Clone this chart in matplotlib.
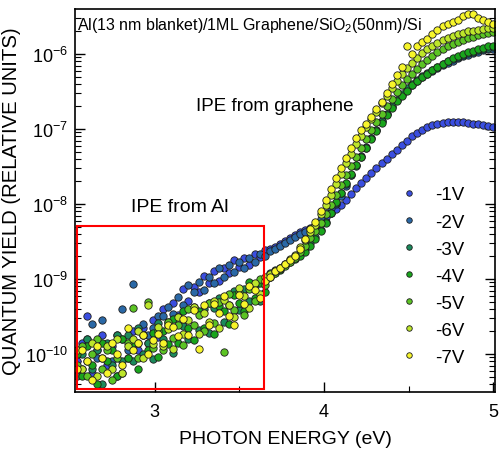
import numpy as np
import matplotlib
matplotlib.use("Agg")
import matplotlib.pyplot as plt
from matplotlib.patches import Rectangle
from matplotlib.ticker import FixedLocator, NullFormatter, MultipleLocator, LogFormatterSciNotation

plt.rcParams['font.family'] = ['Liberation Sans', 'DejaVu Sans']
plt.rcParams['axes.unicode_minus'] = False
plt.rcParams['mathtext.fontset'] = 'custom'
plt.rcParams['mathtext.rm'] = 'Liberation Sans'

# ---------------- data (log10 of quantum yield) ----------------
energy = [2.54, 2.57, 2.60, 2.63, 2.66, 2.69, 2.72, 2.75, 2.78, 2.81,
          2.84, 2.87, 2.90, 2.93, 2.96, 2.99, 3.02, 3.05, 3.08, 3.11,
          3.14, 3.17, 3.20, 3.23, 3.26, 3.29, 3.32, 3.35, 3.38, 3.41,
          3.44, 3.47, 3.50, 3.53, 3.56, 3.59, 3.62, 3.65, 3.68, 3.71,
          3.74, 3.77, 3.80, 3.83, 3.86, 3.89, 3.92, 3.95, 3.98, 4.01,
          4.04, 4.07, 4.10, 4.13, 4.16, 4.19, 4.22, 4.25, 4.28, 4.31,
          4.34, 4.37, 4.40, 4.43, 4.46, 4.49, 4.52, 4.55, 4.58, 4.61,
          4.64, 4.67, 4.70, 4.73, 4.76, 4.79, 4.82, 4.85, 4.88, 4.91,
          4.94, 4.97, 5.00]

logqy_1V = [-10.10, -9.85, -9.50, -10.25, -9.95, -9.75, -10.15, -9.90, -10.30, -9.80,
            -10.05, -9.70, -9.95, -9.65, -9.85, -9.55, -9.77, -9.40, -9.57, -9.32,
            -9.48, -9.14, -9.30, -9.11, -9.18, -8.96, -9.05, -8.90, -9.03, -8.85,
            -8.92, -8.75, -8.84, -8.72, -8.81, -8.67, -8.71, -8.62, -8.60, -8.57,
            -8.53, -8.49, -8.46, -8.42, -8.38, -8.35, -8.32, -8.29, -8.24, -8.18,
            -8.12, -8.07, -8.02, -7.95, -7.87, -7.79, -7.72, -7.65, -7.59, -7.52,
            -7.46, -7.40, -7.34, -7.28, -7.22, -7.16, -7.10, -7.05, -7.01, -6.98,
            -6.95, -6.93, -6.92, -6.91, -6.91, -6.91, -6.91, -6.92, -6.93, -6.94,
            -6.95, -6.96, -6.97]

logqy_2V = [-9.95, -10.20, -9.80, -9.60, -10.05, -9.55, -9.90, -10.10, -9.75, -9.40,
            -9.95, -9.07, -9.85, -9.60, -9.75, -9.65, -9.50, -9.50, -9.38, -9.47,
            -9.24, -9.35, -9.08, -9.17, -9.04, -9.15, -8.97, -9.06, -8.85, -8.97,
            -8.81, -8.91, -8.77, -8.86, -8.72, -8.78, -8.67, -8.69, -8.63, -8.60,
            -8.56, -8.52, -8.48, -8.44, -8.40, -8.37, -8.33, -8.28, -8.20, -8.12,
            -8.06, -8.00, -7.90, -7.76, -7.62, -7.48, -7.36, -7.24, -7.12, -7.01,
            -6.90, -6.80, -6.71, -6.62, -6.55, -6.48, -6.41, -6.36, -6.31, -6.27,
            -6.23, -6.19, -6.15, -6.12, -6.09, -6.06, -6.03, -6.01, -5.99, -5.97,
            -5.95, -5.94, -5.93]

logqy_3V = [-10.30, -10.00, -9.80, -10.20, -9.95, -10.40, -9.85, -10.15, -9.75, -10.10,
            -9.75, -10.10, -9.65, -10.00, -9.85, -10.07, -9.59, -9.80, -9.62, -9.99,
            -9.51, -9.63, -9.80, -9.37, -9.68, -9.40, -9.72, -9.39, -9.26, -9.58,
            -9.35, -9.16, -9.42, -9.13, -9.29, -9.10, -9.30, -9.03, -8.92, -8.88,
            -8.85, -8.80, -8.75, -8.72, -8.66, -8.60, -8.52, -8.44, -8.35, -8.24,
            -8.12, -7.99, -7.86, -7.74, -7.62, -7.50, -7.38, -7.25, -7.12, -7.01,
            -6.90, -6.80, -6.70, -6.61, -6.53, -6.46, -6.40, -6.35, -6.30, -6.26,
            -6.22, -6.18, -6.14, -6.10, -6.07, -6.04, -6.01, -5.99, -5.97, -5.95,
            -5.93, -5.92, -5.91]

logqy_4V = [-10.00, -10.30, -9.90, -10.15, -10.40, -9.85, -10.10, -9.95, -10.30, -9.80,
            -10.05, -9.85, -10.20, -9.75, -9.95, -9.72, -10.04, -9.70, -9.87, -9.54,
            -9.86, -9.43, -9.65, -9.82, -9.43, -9.65, -9.32, -9.74, -9.36, -9.43,
            -9.60, -9.21, -9.32, -9.43, -9.04, -9.25, -9.05, -9.18, -8.98, -8.92,
            -8.88, -8.82, -8.78, -8.74, -8.70, -8.64, -8.56, -8.47, -8.36, -8.25,
            -8.12, -7.98, -7.85, -7.72, -7.60, -7.48, -7.37, -7.26, -7.14, -7.03,
            -6.92, -6.82, -6.72, -6.63, -6.56, -6.49, -6.42, -6.36, -6.31, -6.27,
            -6.22, -6.17, -6.13, -6.09, -6.06, -6.03, -6.00, -5.98, -5.96, -5.94,
            -5.92, -5.90, -5.89]

logqy_5V = [-10.15, -9.90, -10.30, -10.00, -9.80, -10.20, -9.95, -10.35, -10.05, -10.25,
            -9.85, -9.39, -10.05, -9.75, -9.31, -9.92, -9.69, -9.95, -9.57, -9.79,
            -9.61, -9.88, -9.40, -9.62, -9.48, -9.70, -9.32, -9.59, -9.31, -9.98,
            -9.20, -9.41, -9.17, -9.48, -9.14, -9.30, -9.00, -9.08, -8.97, -8.92,
            -8.87, -8.83, -8.78, -8.72, -8.64, -8.56, -8.46, -8.36, -8.25, -8.13,
            -8.02, -7.88, -7.75, -7.62, -7.50, -7.37, -7.25, -7.13, -7.02, -6.91,
            -6.80, -6.70, -6.60, -6.51, -6.42, -6.34, -6.27, -6.20, -6.14, -6.08,
            -6.03, -5.98, -5.94, -5.90, -5.87, -5.84, -5.81, -5.79, -5.77, -5.75,
            -5.73, -5.72, -5.71]

logqy_6V = [-9.95, -10.20, -10.10, -9.85, -10.30, -10.05, -9.90, -10.20, -9.80, -10.25,
            -9.90, -9.80, -9.70, -10.05, -9.35, -9.87, -9.64, -9.90, -9.67, -9.94,
            -9.51, -9.73, -9.55, -9.37, -9.73, -9.45, -9.57, -9.29, -9.66, -9.28,
            -9.35, -9.51, -9.12, -9.23, -9.39, -9.05, -9.20, -8.98, -8.94, -8.90,
            -8.85, -8.80, -8.74, -8.68, -8.58, -8.48, -8.38, -8.28, -8.14, -8.02,
            -7.88, -7.74, -7.60, -7.46, -7.33, -7.20, -7.09, -6.98, -6.87, -6.77,
            -6.66, -6.56, -6.46, -6.36, -6.27, -6.19, -6.12, -6.05, -5.99, -5.94,
            -5.90, -5.86, -5.82, -5.79, -5.76, -5.74, -5.72, -5.70, -5.69, -5.68,
            -5.67, -5.66, -5.65]

logqy_7V = [-10.20, -9.95, -10.10, -10.35, -9.90, -10.05, -10.25, -9.85, -10.00, -10.15,
            -9.65, -9.95, -9.85, -9.75, -10.00, -9.82, -9.74, -9.85, -9.62, -9.64,
            -9.76, -9.53, -9.75, -9.42, -9.93, -9.35, -9.62, -9.34, -9.46, -9.23,
            -9.50, -9.61, -9.22, -9.33, -9.09, -9.15, -9.25, -9.03, -8.97, -8.90,
            -8.85, -8.80, -8.75, -8.70, -8.60, -8.47, -8.34, -8.24, -8.10, -7.95,
            -7.80, -7.66, -7.52, -7.39, -7.26, -7.12, -7.02, -6.93, -6.84, -6.74,
            -6.64, -6.52, -6.40, -6.28, -6.18, -5.89, -6.00, -5.90, -5.84, -5.80,
            -5.74, -5.68, -5.63, -5.60, -5.57, -5.55, -5.50, -5.47, -5.47, -5.52,
            -5.55, -5.58, -5.60]

labels = ['-1V', '-2V', '-3V', '-4V', '-5V', '-6V', '-7V']
series = [logqy_1V, logqy_2V, logqy_3V, logqy_4V, logqy_5V, logqy_6V, logqy_7V]
colors = ['#3a4ee0', '#2a68a6', '#1b8a5c', '#19a51c', '#5cc424', '#bde62a', '#f7f52a']

y_major_ticks = [1e-10, 1e-9, 1e-8, 1e-7, 1e-6]
x_major_ticks = [3, 4, 5]

title_text = 'Al(13 nm blanket)/1ML Graphene/SiO$_2$(50nm)/Si'
box_x = (2.541, 3.647)
box_y = (3.41e-11, 5.09e-9)

# ---------------- figure ----------------
fig = plt.figure(figsize=(5.01, 4.52), dpi=100)
ax = fig.add_axes([75/501, 59/452, 420/501, 383/452])

E = np.array(energy)
for lab, vals, col in zip(labels, series, colors):
    ax.plot(E, 10.0 ** np.array(vals), linestyle='none', marker='o',
            ms=5.3, mfc=col, mec='#1e1e1e', mew=0.6, label=lab)

ax.set_yscale('log')
ax.set_xlim(2.53, 5.01)
ax.set_ylim(10 ** -10.507, 10 ** -5.4)

ax.add_patch(Rectangle((box_x[0], box_y[0]), box_x[1] - box_x[0], box_y[1] - box_y[0],
                       fill=False, edgecolor='#ff0000', linewidth=1.5, zorder=5))

ax.xaxis.set_major_locator(FixedLocator(x_major_ticks))
ax.xaxis.set_minor_locator(MultipleLocator(0.5))
ax.yaxis.set_major_locator(FixedLocator(y_major_ticks))
ax.yaxis.set_major_formatter(LogFormatterSciNotation())
minor_y = [m * 10.0 ** k for k in range(-11, -5) for m in range(2, 10)
           if 10 ** -10.507 < m * 10.0 ** k < 10 ** -5.4]
ax.yaxis.set_minor_locator(FixedLocator(minor_y))
ax.yaxis.set_minor_formatter(NullFormatter())

ax.tick_params(axis='both', which='both', direction='in', right=True, top=False)
ax.tick_params(axis='both', which='major', length=7, width=1.0, labelsize=13)
ax.tick_params(axis='both', which='minor', length=4, width=0.8)
ax.tick_params(axis='x', which='major', pad=8)
ax.tick_params(axis='y', which='major', pad=5)
for sp in ax.spines.values():
    sp.set_linewidth(1.2)

ax.set_xlabel('PHOTON ENERGY (eV)', fontsize=14, labelpad=7)
ax.set_ylabel('QUANTUM YIELD (RELATIVE UNITS)', fontsize=14.6, labelpad=3)

ax.text(0.005, 0.985, title_text, transform=ax.transAxes, ha='left', va='top', fontsize=11.5)
ax.text(3.71, 10 ** -6.69, 'IPE from graphene', ha='center', va='center', fontsize=13.5)
ax.text(3.15, 10 ** -8.03, 'IPE from Al', ha='center', va='center', fontsize=14)

leg = ax.legend(loc='upper left', bbox_to_anchor=(0.774, 0.537), frameon=False,
                fontsize=13.5, markerscale=0.75, handlelength=1.0, handletextpad=0.85,
                labelspacing=0.53, borderpad=0, borderaxespad=0, numpoints=1)

fig.savefig('out.png', dpi=100)
